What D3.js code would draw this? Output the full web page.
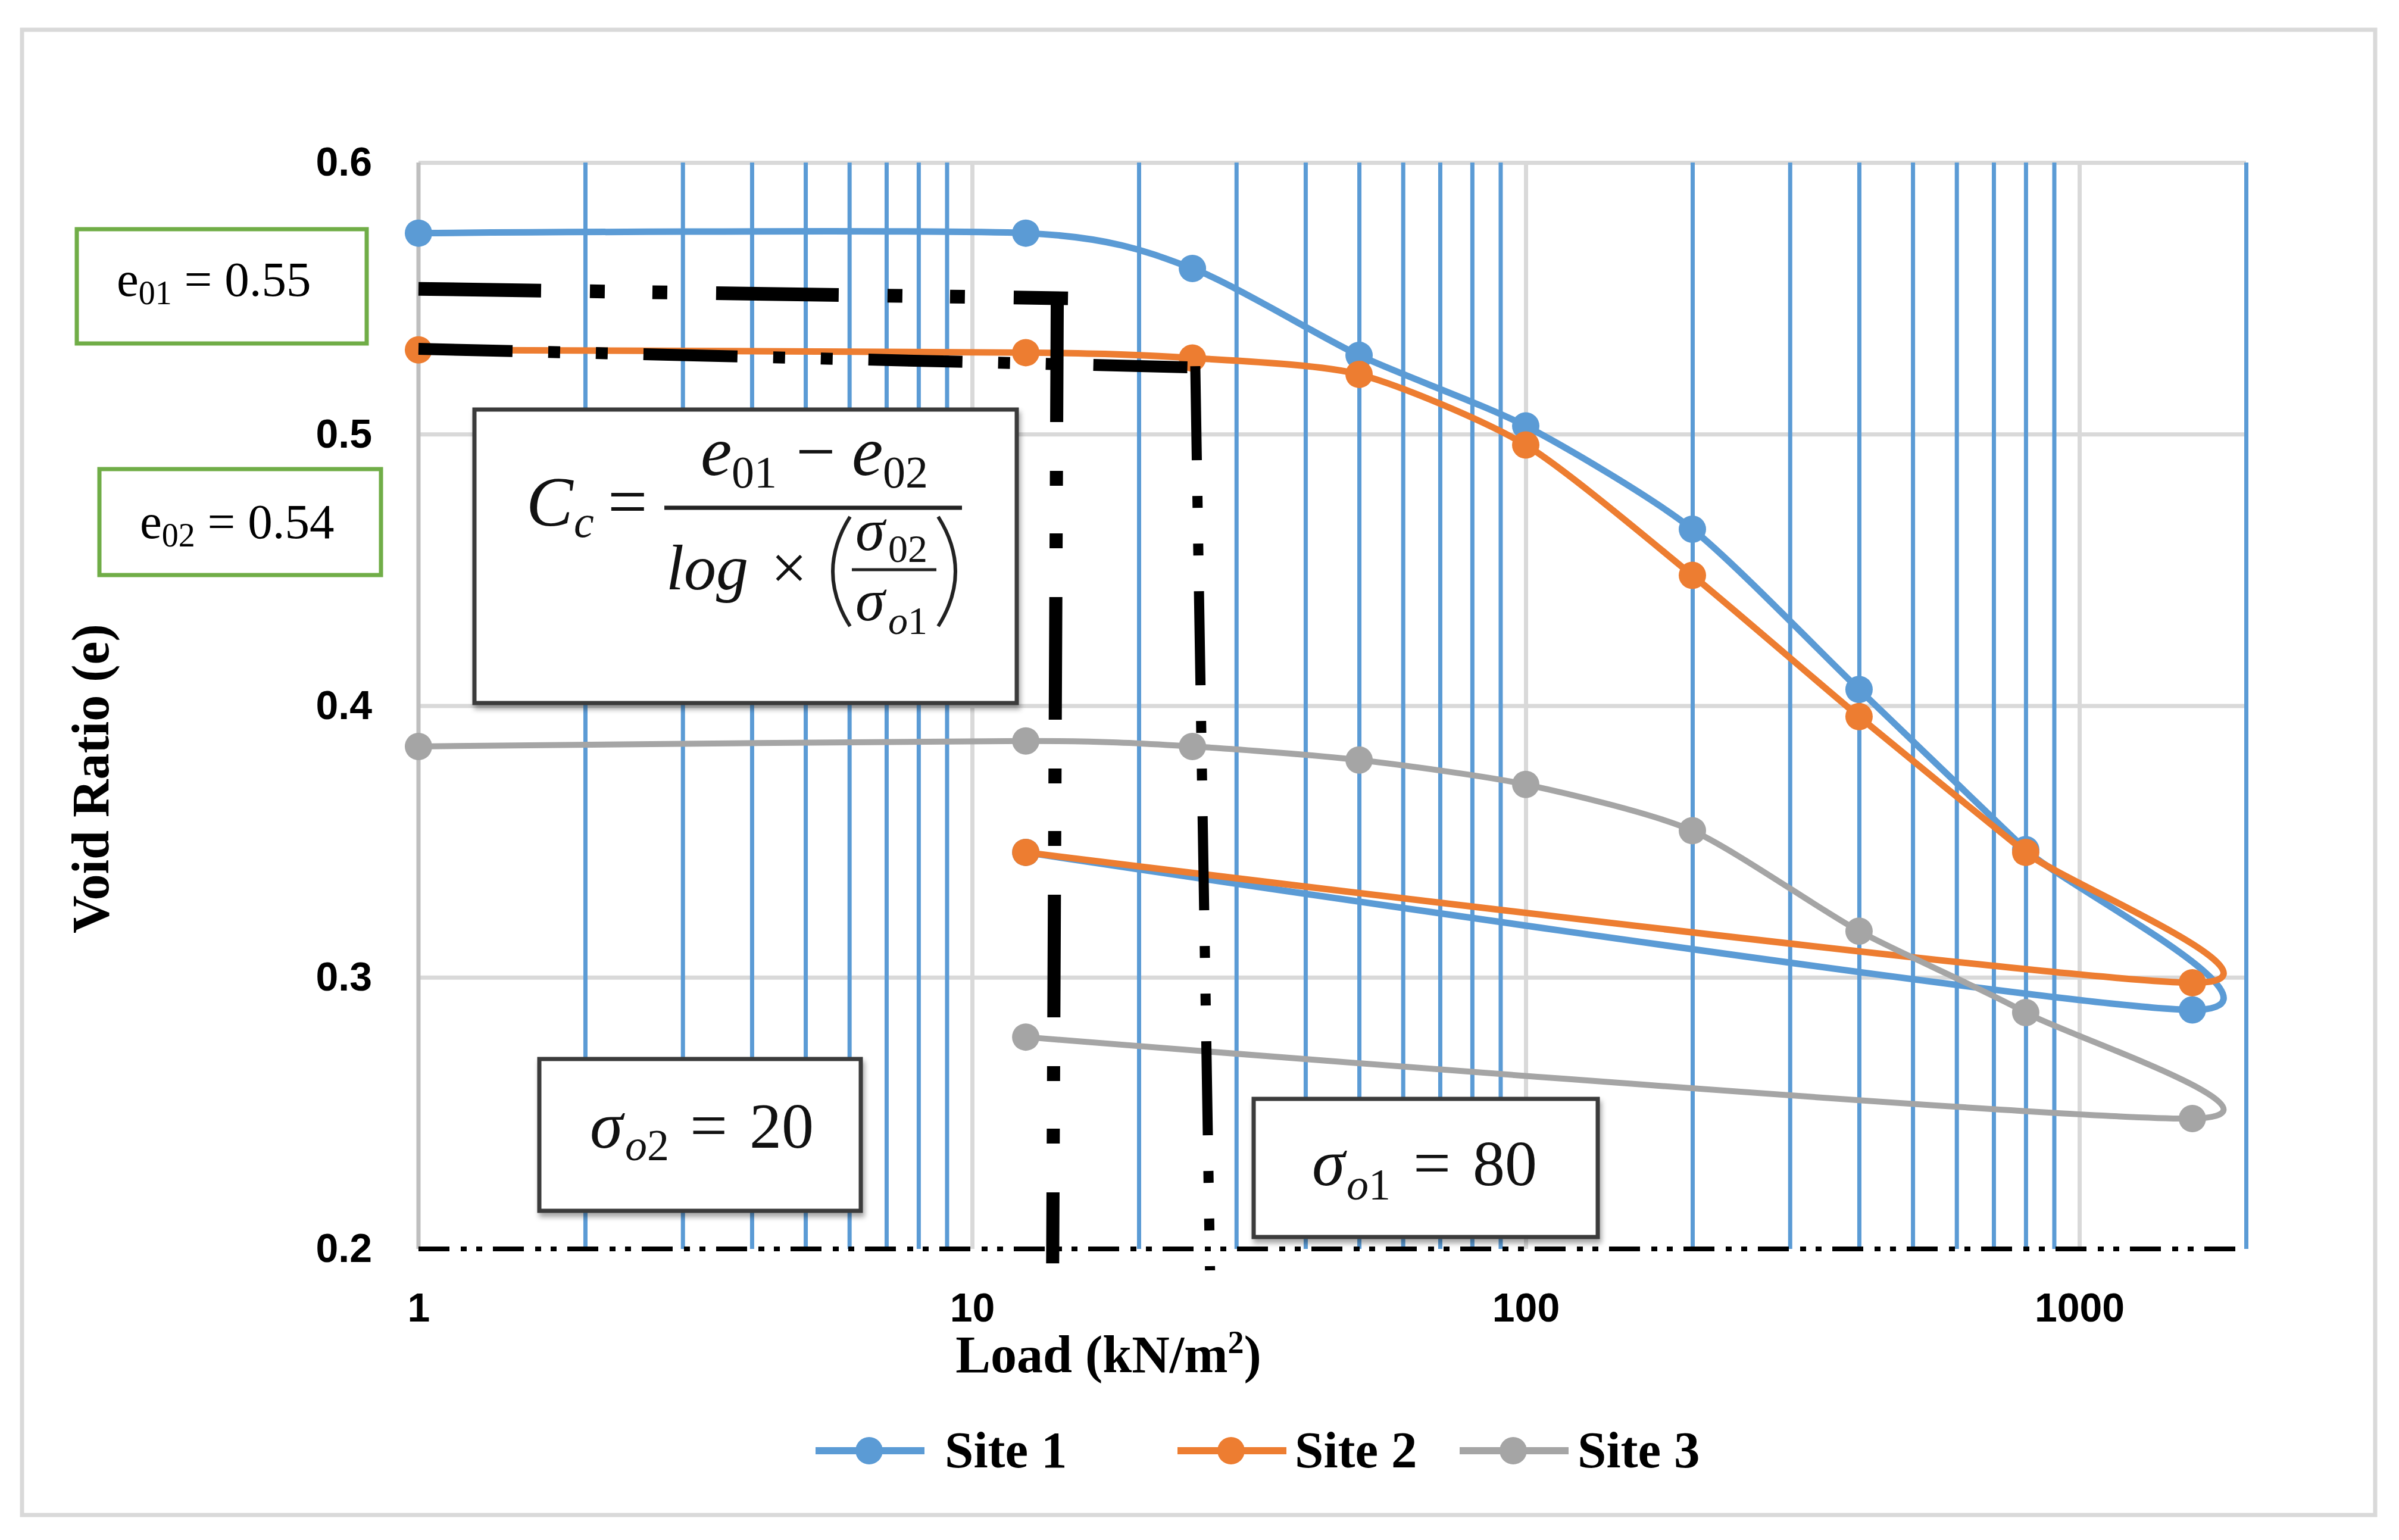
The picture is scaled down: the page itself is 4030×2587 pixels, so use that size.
<!DOCTYPE html>
<html lang="en">
<head>
<meta charset="UTF-8">
<title>Void Ratio vs Load</title>
<script src="https://d3js.org/d3.v7.min.js"></script>
<style>
  html, body { margin: 0; padding: 0; background: #fff; }
  svg { display: block; }
</style>
</head>
<body>
<svg id="chart"></svg>
<script>
  // load steps (kN/m2): loading up to 1600, then unloading back to 12.5
  const loads = [1, 12.5, 25, 50, 100, 200, 400, 800, 1600, 12.5]
  const site1 = [0.574, 0.574, 0.561, 0.529, 0.503, 0.465, 0.406, 0.347, 0.288, 0.346]
  const site2 = [0.531, 0.530, 0.528, 0.522, 0.496, 0.448, 0.396, 0.346, 0.298, 0.346]
  const site3 = [0.385, 0.387, 0.385, 0.380, 0.371, 0.354, 0.317, 0.287, 0.248, 0.278]
  const seriesNames = ['Site 1', 'Site 2', 'Site 3']
  const yTicks = [0.2, 0.3, 0.4, 0.5, 0.6]
  const xTicks = [1, 10, 100, 1000]

  // hand drawn guide lines, in (load, e)
  const guideE01 = [[1, 0.5535], [14.9, 0.550]]
  const guideS2 = [[14.25, 0.5496], [13.98, 0.1947]]
  const guideE02 = [[1, 0.5314], [24.8, 0.5246]]
  const guideS1 = [[25.3, 0.525], [26.9, 0.1921]]

  const W = 4030, H = 2587
  const colors = ['#5b9bd5', '#ed7d31', '#a5a5a5']
  const widths = [11, 11, 10]

  const x = d3.scaleLog().domain([1, 2000]).range([703, 3773])
  const y = d3.scaleLinear().domain([0.2, 0.6]).range([2098, 273])
  const plotW = x.range()[1] - x.range()[0]
  const plotH = y.range()[0] - y.range()[1]

  const svg = d3.select('#chart').attr('width', W).attr('height', H)
  svg.append('rect').attr('width', W).attr('height', H).attr('fill', '#fff')

  const defs = svg.append('defs')
  const shadow = defs.append('filter').attr('id', 'shadow')
    .attr('x', '-10%').attr('y', '-10%').attr('width', '130%').attr('height', '140%')
  shadow.append('feDropShadow').attr('dx', 3).attr('dy', 7).attr('stdDeviation', 4)
    .attr('flood-color', '#000').attr('flood-opacity', 0.35)

  // chart frame
  svg.append('rect').attr('x', 37).attr('y', 50).attr('width', 3953).attr('height', 2495)
    .attr('fill', 'none').attr('stroke', '#d9d9d9').attr('stroke-width', 7)

  // gridlines
  const isDecade = d => Math.abs(Math.log10(d) - Math.round(Math.log10(d))) < 1e-9
  const allX = x.ticks()
  const majorX = allX.filter(d => isDecade(d) && d > 1)
  const minorX = allX.filter(d => !isDecade(d))

  const gridY = svg.append('g').attr('transform', `translate(${x(1)},0)`)
    .call(d3.axisLeft(y).tickValues(yTicks.filter(d => d > 0.2)).tickSize(-plotW).tickFormat(''))
  gridY.select('.domain').remove()
  gridY.selectAll('line').attr('stroke', '#d9d9d9').attr('stroke-width', 7)

  const gridMajor = svg.append('g').attr('transform', `translate(0,${y(0.2)})`)
    .call(d3.axisBottom(x).tickValues(majorX).tickSize(-plotH).tickFormat(''))
  gridMajor.select('.domain').remove()
  gridMajor.selectAll('line').attr('stroke', '#d9d9d9').attr('stroke-width', 7)

  const gridMinor = svg.append('g').attr('transform', `translate(0,${y(0.2)})`)
    .call(d3.axisBottom(x).tickValues(minorX).tickSize(-plotH).tickFormat(''))
  gridMinor.select('.domain').remove()
  gridMinor.selectAll('line').attr('stroke', '#5b9bd5').attr('stroke-width', 7)

  // axis lines
  svg.append('line').attr('x1', x(1)).attr('x2', x(1)).attr('y1', y(0.6)).attr('y2', y(0.2))
    .attr('stroke', '#bfbfbf').attr('stroke-width', 7)
  svg.append('line').attr('x1', x(1)).attr('x2', x(2000)).attr('y1', y(0.2)).attr('y2', y(0.2))
    .attr('stroke', '#000').attr('stroke-width', 8).attr('stroke-dasharray', '52 19 10 16 10 18')

  // tick labels
  const yAxis = svg.append('g').attr('transform', `translate(${x(1)},0)`)
    .call(d3.axisLeft(y).tickValues(yTicks).tickSize(0).tickPadding(78).tickFormat(d3.format('.1f')))
  yAxis.select('.domain').remove()
  yAxis.selectAll('text').attr('font-family', 'Liberation Sans, Arial, sans-serif')
    .attr('font-weight', 'bold').attr('font-size', 68).attr('fill', '#000')

  const xAxis = svg.append('g').attr('transform', `translate(0,${y(0.2)})`)
    .call(d3.axisBottom(x).tickValues(xTicks).tickSize(0).tickPadding(74).tickFormat(d3.format('d')))
  xAxis.select('.domain').remove()
  xAxis.selectAll('text').attr('font-family', 'Liberation Sans, Arial, sans-serif')
    .attr('font-weight', 'bold').attr('font-size', 68).attr('fill', '#000')

  // axis titles
  const serif = 'Liberation Serif, Times New Roman, serif'
  const xt = svg.append('text').attr('x', 1862).attr('y', 2305).attr('text-anchor', 'middle')
    .attr('font-family', serif).attr('font-weight', 'bold').attr('font-size', 88)
  xt.append('tspan').text('Load (kN/m')
  xt.append('tspan').attr('font-size', 54).attr('dy', -32).text('2')
  xt.append('tspan').attr('dy', 32).text(')')

  svg.append('text').attr('transform', 'translate(182,1308) rotate(-90)').attr('text-anchor', 'middle')
    .attr('font-family', serif).attr('font-weight', 'bold').attr('font-size', 88)
    .text('Void Ratio (e)')

  // series
  const line = d3.line().x(d => x(d[0])).y(d => y(d[1])).curve(d3.curveCardinal.tension(0.3))
  const allSeries = [site1, site2, site3]
  allSeries.forEach((vals, i) => {
    const pts = loads.map((l, j) => [l, vals[j]])
    const g = svg.append('g')
    g.append('path').attr('d', line(pts)).attr('fill', 'none')
      .attr('stroke', colors[i]).attr('stroke-width', widths[i])
      .attr('stroke-linejoin', 'round').attr('stroke-linecap', 'round')
    g.selectAll('circle').data(pts).join('circle')
      .attr('cx', d => x(d[0])).attr('cy', d => y(d[1])).attr('r', 23)
      .attr('fill', colors[i])
  })

  // guide lines
  const guide = d3.line().x(d => x(d[0])).y(d => y(d[1]))
  const patA = '206 82 25 80 25 82'
  const patB = '158 60 20 60 20 60'
  svg.append('path').attr('d', guide(guideE01)).attr('stroke', '#000').attr('stroke-width', 23)
    .attr('fill', 'none').attr('stroke-dasharray', patA)
  svg.append('path').attr('d', guide(guideS2)).attr('stroke', '#000').attr('stroke-width', 22)
    .attr('fill', 'none').attr('stroke-dasharray', patA)
  svg.append('path').attr('d', guide(guideE02)).attr('stroke', '#000').attr('stroke-width', 20)
    .attr('fill', 'none').attr('stroke-dasharray', patB)
  svg.append('path').attr('d', guide(guideS1)).attr('stroke', '#000').attr('stroke-width', 17)
    .attr('fill', 'none').attr('stroke-dasharray', patB)

  // green value boxes
  function greenBox(x0, y0, w, h, tx, ty, sub, val) {
    svg.append('rect').attr('x', x0).attr('y', y0).attr('width', w).attr('height', h)
      .attr('fill', '#fff').attr('stroke', '#70ad47').attr('stroke-width', 7)
    const t = svg.append('text').attr('x', tx).attr('y', ty)
      .attr('font-family', serif).attr('font-size', 83).attr('fill', '#000')
    t.append('tspan').text('e')
    t.append('tspan').attr('font-size', 56).attr('dy', 14).text(sub)
    t.append('tspan').attr('dy', -14).text(' = ' + val)
  }
  greenBox(129, 385, 487, 192, 196, 497, '01', '0.55')
  greenBox(167, 788, 473, 178, 235, 904, '02', '0.54')

  // dark boxes with shadow
  function darkBox(x0, y0, w, h) {
    svg.append('rect').attr('x', x0).attr('y', y0).attr('width', w).attr('height', h)
      .attr('fill', '#fff').attr('stroke', '#3a3a3a').attr('stroke-width', 7)
      .attr('filter', 'url(#shadow)')
  }
  function txt(tx, ty, s, size, italic) {
    return svg.append('text').attr('x', tx).attr('y', ty).attr('font-family', serif)
      .attr('font-size', size).attr('font-style', italic ? 'italic' : 'normal')
      .attr('fill', '#111').text(s)
  }

  darkBox(797, 688, 911, 493)
  txt(884, 883, 'C', 118, true)
  txt(964, 902, 'c', 76, true)
  txt(1021, 883, '=', 118, false)
  svg.append('line').attr('x1', 1116).attr('x2', 1616).attr('y1', 853).attr('y2', 853)
    .attr('stroke', '#222').attr('stroke-width', 7)
  txt(1177, 798, 'e', 118, true)
  txt(1229, 819, '01', 76, false)
  txt(1337, 798, '\u2212', 118, false)
  txt(1431, 798, 'e', 118, true)
  txt(1483, 819, '02', 76, false)
  txt(1119, 990, 'log', 108, true)
  txt(1295, 990, '\u00d7', 108, false)
  svg.append('path').attr('d', 'M1428,868 Q1370,960 1428,1052').attr('fill', 'none')
    .attr('stroke', '#222').attr('stroke-width', 6)
  svg.append('path').attr('d', 'M1576,868 Q1634,960 1576,1052').attr('fill', 'none')
    .attr('stroke', '#222').attr('stroke-width', 6)
  txt(1437, 924, '\u03c3', 100, true)
  txt(1492, 944, '02', 66, false)
  svg.append('line').attr('x1', 1431).attr('x2', 1573).attr('y1', 957).attr('y2', 957)
    .attr('stroke', '#222').attr('stroke-width', 5)
  txt(1437, 1042, '\u03c3', 100, true)
  const s1 = txt(1492, 1065, '', 66, false)
  s1.append('tspan').attr('font-style', 'italic').text('o')
  s1.append('tspan').text('1')

  darkBox(906, 1779, 540, 255)
  txt(991, 1928, '\u03c3', 112, true)
  const so2 = txt(1050, 1949, '', 74, false)
  so2.append('tspan').attr('font-style', 'italic').text('o')
  so2.append('tspan').text('2')
  txt(1159, 1928, '=', 112, false)
  txt(1259, 1928, '20', 108, false)

  darkBox(2106, 1846, 578, 232)
  txt(2204, 1991, '\u03c3', 112, true)
  const so1 = txt(2262, 2015, '', 74, false)
  so1.append('tspan').attr('font-style', 'italic').text('o')
  so1.append('tspan').text('1')
  txt(2374, 1991, '=', 112, false)
  txt(2474, 1991, '80', 108, false)

  // legend
  const legendX = [1370, 1978, 2452]
  const legendTextX = [217, 197, 198]
  const legend = svg.append('g').selectAll('g').data(seriesNames).join('g')
    .attr('transform', (d, i) => `translate(${legendX[i]},2437)`)
  legend.append('line').attr('x1', 0).attr('x2', 183).attr('stroke', (d, i) => colors[i])
    .attr('stroke-width', 12)
  legend.append('circle').attr('cx', 90).attr('r', 23).attr('fill', (d, i) => colors[i])
  legend.append('text').attr('x', (d, i) => legendTextX[i]).attr('y', 28).attr('font-family', serif)
    .attr('font-weight', 'bold').attr('font-size', 87).attr('fill', '#000').text(d => d)
</script>
</body>
</html>
